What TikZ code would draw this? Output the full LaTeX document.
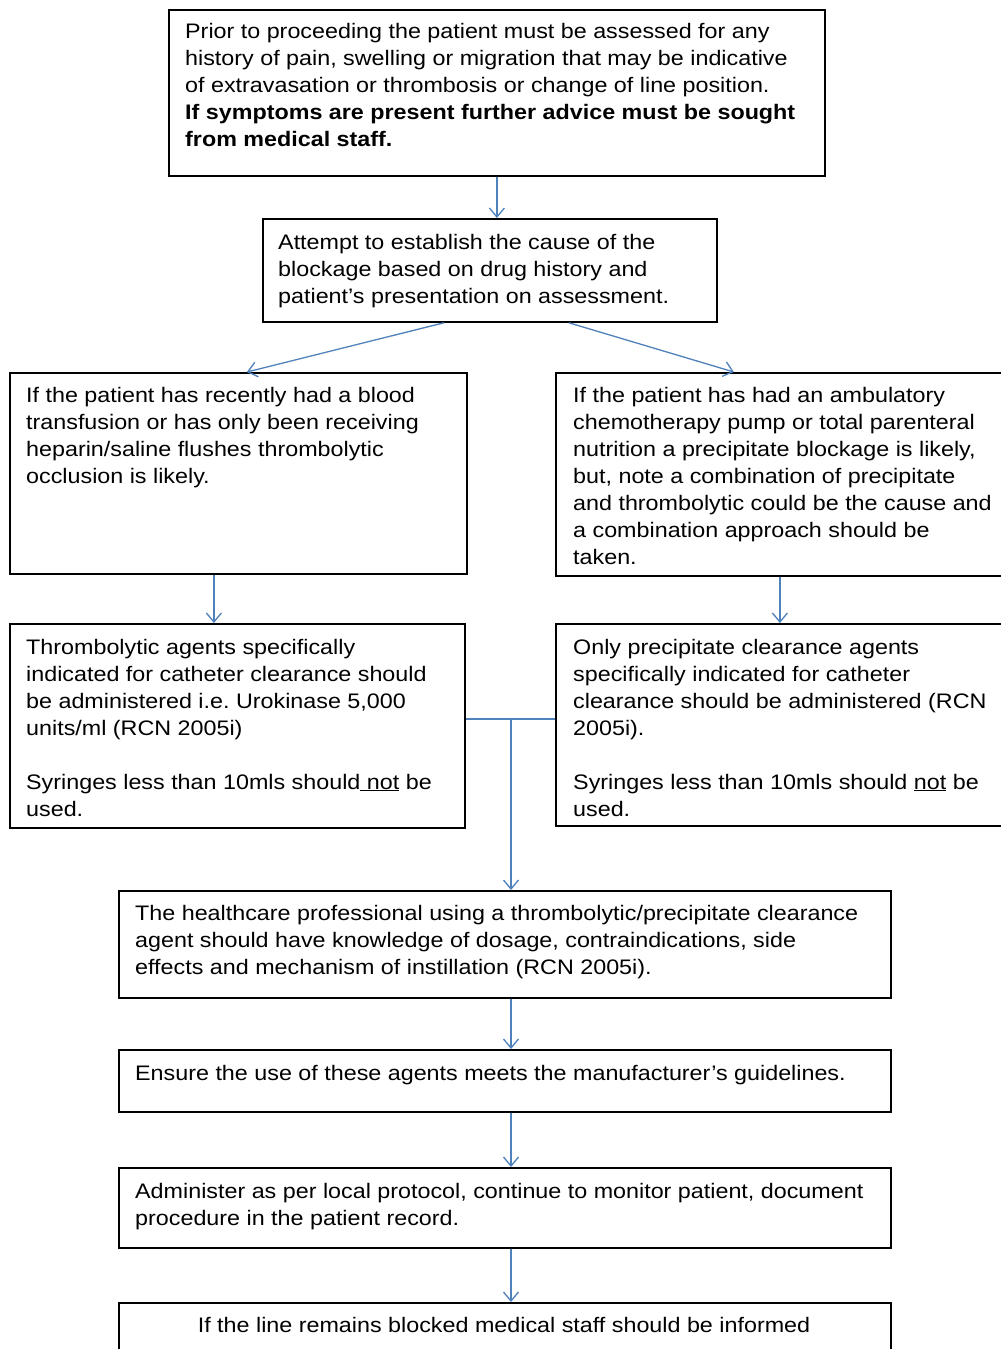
\documentclass[tikz,border=0pt]{standalone}
\usepackage{fontspec}
\setmainfont{Liberation Sans}[FakeStretch=1.11]
\usetikzlibrary{arrows.meta,calc}
\definecolor{arrowblue}{RGB}{79,129,189}
\newcommand\mylines[1]{\parbox[t]{800pt}{\raggedright #1}}
\frenchspacing
\begin{document}
\begin{tikzpicture}[x=1pt,y=-1pt,
  box/.style={draw=black, line width=1.8pt, anchor=north west, inner sep=0pt},
  txt/.style={anchor=base west, inner sep=0pt, font=\fontsize{21}{27}\selectfont},
  arr/.style={draw=arrowblue, line width=1.3pt, -{Straight Barb[length=9pt,width=15pt,line width=1.3pt]}},
  ln/.style={draw=arrowblue, line width=1.3pt}]
\clip (0,0) rectangle (1001,1349);
\fill[white] (0,0) rectangle (1001,1349);

% boxes
\node[box, minimum width=656pt, minimum height=166pt] (b1) at (168,9) {};
\node[box, minimum width=454pt, minimum height=103pt] (b2) at (262,218) {};
\node[box, minimum width=457pt, minimum height=201pt] (b3) at (9,372) {};
\node[box, minimum width=452pt, minimum height=203pt] (b4) at (555,372) {};
\node[box, minimum width=455pt, minimum height=204pt] (b5) at (9,623) {};
\node[box, minimum width=452pt, minimum height=202pt] (b6) at (555,623) {};
\node[box, minimum width=772pt, minimum height=107pt] (b7) at (118,890) {};
\node[box, minimum width=772pt, minimum height=62pt] (b8) at (118,1049) {};
\node[box, minimum width=772pt, minimum height=80pt] (b9) at (118,1167) {};
\node[box, minimum width=772pt, minimum height=80pt] (b10) at (118,1302) {};

% texts
\node[txt] (t1) at (185,38.5) {\mylines{Prior to proceeding the patient must be assessed for any\\
history of pain, swelling or migration that may be indicative\\
of extravasation or thrombosis or change of line position.\\
\textbf{If symptoms are present further advice must be sought}\\
\textbf{from medical staff.}}};
\node[txt] (t2) at (278,249) {\mylines{Attempt to establish the cause of the\\
blockage based on drug history and\\
patient's presentation on assessment.}};
\node[txt] (t3) at (26,402) {\mylines{If the patient has recently had a blood\\
transfusion or has only been receiving\\
heparin/saline flushes thrombolytic\\
occlusion is likely.}};
\node[txt] (t4) at (573,402) {\mylines{If the patient has had an ambulatory\\
chemotherapy pump or total parenteral\\
nutrition a precipitate blockage is likely,\\
but, note a combination of precipitate\\
and thrombolytic could be the cause and\\
a combination approach should be\\
taken.}};
\node[txt] (t5) at (26,654) {\mylines{Thrombolytic agents specifically\\
indicated for catheter clearance should\\
be administered i.e. Urokinase 5,000\\
units/ml (RCN 2005i)\\[27pt]
Syringes less than 10mls should\underline{ not} be\\
used.}};
\node[txt] (t6) at (573,654) {\mylines{Only precipitate clearance agents\\
specifically indicated for catheter\\
clearance should be administered (RCN\\
2005i).\\[27pt]
Syringes less than 10mls should \underline{not} be\\
used.}};
\node[txt] (t7) at (135,920) {\mylines{The healthcare professional using a thrombolytic/precipitate clearance\\
agent should have knowledge of dosage, contraindications, side\\
effects and mechanism of instillation (RCN 2005i).}};
\node[txt] (t8) at (135,1080) {\mylines{Ensure the use of these agents meets the manufacturer's guidelines.}};
\node[txt] (t9) at (135,1198) {\mylines{Administer as per local protocol, continue to monitor patient, document\\
procedure in the patient record.}};
\node[txt, anchor=base] (t10) at (504,1332) {If the line remains blocked medical staff should be informed};

% connectors
\draw[arr] (b1.south) -- (b1.south |- b2.north);
\draw[arr] ($(b2.south)+(-46,0)$) -- ($(b3.north)+(8.5,0)$);
\draw[arr] ($(b2.south)+(79,0)$) -- ($(b4.north)+(-48,0)$);
\coordinate (p3) at ($(b3.south)+(-24.5,0)$);
\draw[arr] (p3) -- (p3 |- b5.north);
\coordinate (p4) at ($(b4.south)+(-2,0)$);
\draw[arr] (p4) -- (p4 |- b6.north);
\coordinate (j) at (511,719);
\draw[ln] (b5.east |- j) -- (b6.west |- j);
\draw[arr] (j) -- (j |- b7.north);
\draw[arr] (j |- b7.south) -- (j |- b8.north);
\draw[arr] (j |- b8.south) -- (j |- b9.north);
\draw[arr] (j |- b9.south) -- (j |- b10.north);
\end{tikzpicture}
\end{document}
